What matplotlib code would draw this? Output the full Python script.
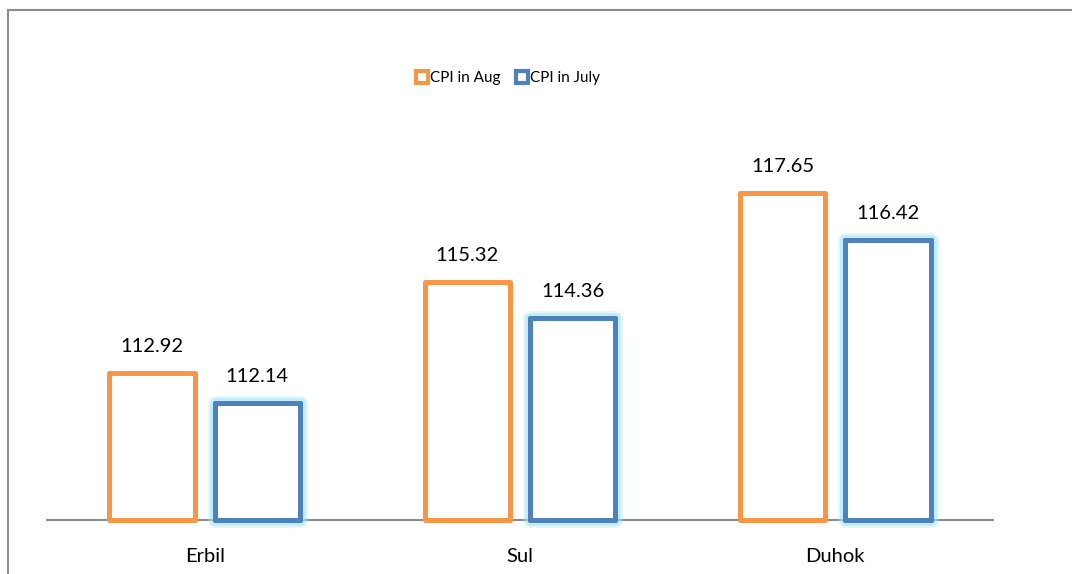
import matplotlib
matplotlib.use("Agg")
import matplotlib.pyplot as plt
import matplotlib.patheffects as pe
from matplotlib.lines import Line2D
from matplotlib.patches import Rectangle
import numpy as np

regions = ["Erbil", "Sul", "Duhok"]
cpi_aug = [112.92, 115.32, 117.65]
cpi_july = [112.14, 114.36, 116.42]

orange = "#F79646"
blue = "#4F81BD"
glow = "#9FE4F8"

plt.rcParams['font.family'] = ['Lato', 'DejaVu Sans']

W, H = 1072, 574
fig = plt.figure(figsize=(W / 100, H / 100), dpi=100)
ax = fig.add_axes([47 / W, 54 / H, 946 / W, 420 / H])

ymin, ymax = 109.06, 120.1
x = np.arange(len(regions))
bw = 0.27
off = 0.167

aug_h = [v - ymin for v in cpi_aug]
jul_h = [v - ymin for v in cpi_july]

ba = ax.bar(x - off, aug_h, bw, bottom=ymin, facecolor="white",
            edgecolor=orange, linewidth=3.6, joinstyle="round",
            zorder=5, clip_on=False)
bj = ax.bar(x + off, jul_h, bw, bottom=ymin, facecolor="white",
            edgecolor=blue, linewidth=3.6, joinstyle="round",
            zorder=5, clip_on=False)
for p in bj:
    p.set_path_effects([pe.withStroke(linewidth=11, foreground=glow, alpha=0.25),
                        pe.withStroke(linewidth=8, foreground=glow, alpha=0.5),
                        pe.Normal()])

ax.bar_label(ba, labels=[f"{v:.2f}" for v in cpi_aug], padding=13, fontsize=14.5)
ax.bar_label(bj, labels=[f"{v:.2f}" for v in cpi_july], padding=13, fontsize=14.5)

ax.set_ylim(ymin, ymax)
ax.set_xlim(-0.5, 2.5)
ax.set_yticks([])
ax.set_xticks(x)
ax.set_xticklabels(regions, fontsize=14.5)
ax.tick_params(axis="x", length=0, pad=20)
for s in ["top", "right", "left"]:
    ax.spines[s].set_visible(False)
ax.spines["bottom"].set_color("#8c8c8c")
ax.spines["bottom"].set_linewidth(1.5)
ax.spines["bottom"].set_zorder(4)

handles = [
    Line2D([], [], linestyle="none", marker="s", markersize=8,
           markerfacecolor="white", markeredgecolor=orange, markeredgewidth=3),
    Line2D([], [], linestyle="none", marker="s", markersize=8,
           markerfacecolor="white", markeredgecolor=blue, markeredgewidth=3),
]
fig.legend(handles, ["CPI in Aug", "CPI in July"], loc="center",
           bbox_to_anchor=(508 / W, 1 - 78 / H), ncol=2, frameon=False,
           fontsize=11, handlelength=0.8, handletextpad=0.15, columnspacing=1.0)

# outer chart frame (only top and left edges visible in the crop)
fig.patches.append(Rectangle((8 / W, -0.2), 1.2, 1.2 - 10 / H,
                             transform=fig.transFigure, fill=False,
                             edgecolor="#8c8c8c", linewidth=1.5))

fig.savefig("out.png", dpi=100)
